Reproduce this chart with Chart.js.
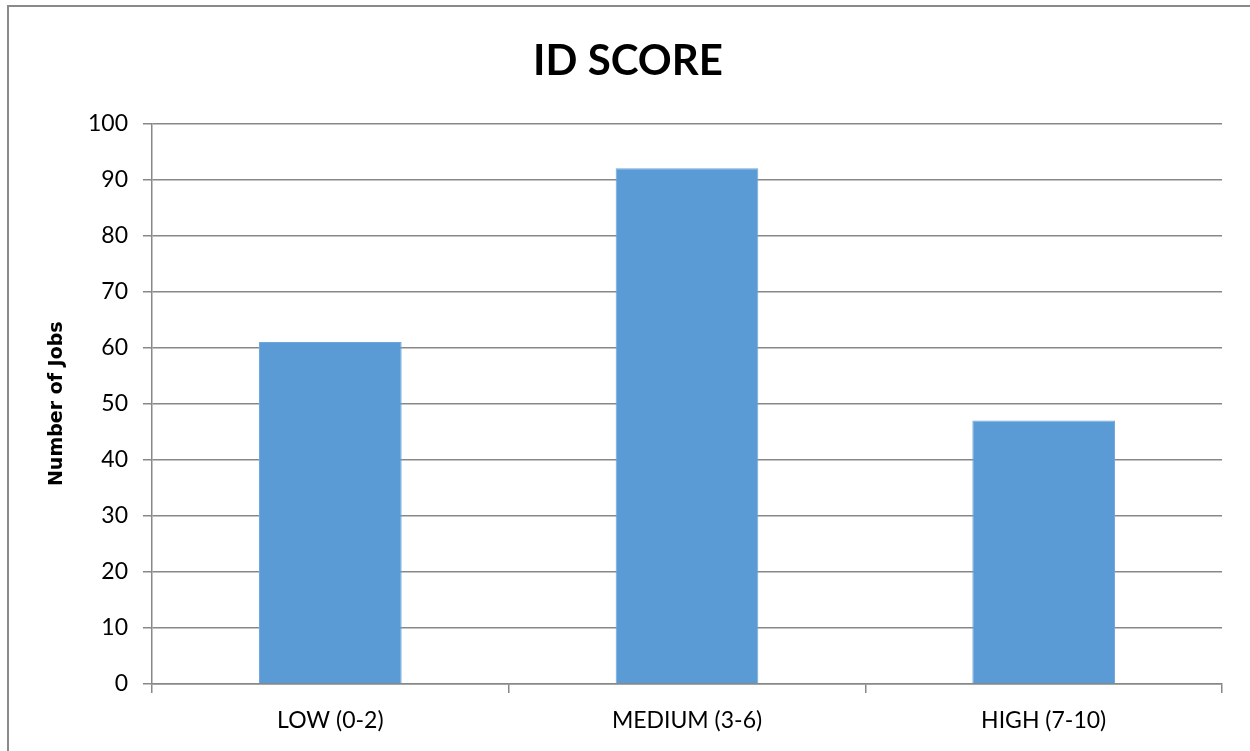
<!DOCTYPE html>
<html>
<head>
<meta charset="utf-8">
<script src="https://cdn.jsdelivr.net/npm/chart.js@4.4.1/dist/chart.umd.min.js"></script>
<style>
  html, body { margin: 0; padding: 0; background: #ffffff; }
  #wrap { position: absolute; left: 0; top: 0; width: 1250px; height: 751px; }
  canvas { display: block; }
</style>
</head>
<body>
<div id="wrap"><canvas id="c" width="1250" height="751"></canvas></div>
<script>
const chartTitle = "ID SCORE";
const yAxisTitle = "Number of Jobs";
const categories = ["LOW (0-2)", "MEDIUM (3-6)", "HIGH (7-10)"];
const jobCounts = [61, 92, 47];
const yMin = 0;
const yMax = 100;
const yStep = 10;

const FONT = "Lato, 'Open Sans', 'DejaVu Sans', sans-serif";
const gridColor = "#888888";

const outerBorder = {
  id: "outerBorder",
  beforeDraw(chart) {
    const ctx = chart.ctx;
    ctx.save();
    ctx.fillStyle = "#ffffff";
    ctx.fillRect(0, 0, chart.width, chart.height);
    ctx.strokeStyle = "#8a8a8a";
    ctx.lineWidth = 2;
    ctx.beginPath();
    ctx.moveTo(8, chart.height + 5);
    ctx.lineTo(8, 6);
    ctx.lineTo(chart.width + 5, 6);
    ctx.stroke();
    ctx.restore();
  }
};

new Chart(document.getElementById("c"), {
  type: "bar",
  data: {
    labels: categories,
    datasets: [{
      label: yAxisTitle,
      data: jobCounts,
      backgroundColor: "#5b9bd5",
      borderColor: "#6fa8dc",
      borderWidth: 1,
      categoryPercentage: 0.4,
      barPercentage: 1.0
    }]
  },
  options: {
    responsive: false,
    animation: false,
    devicePixelRatio: 1,
    layout: { padding: { left: 6, right: 0, top: 0, bottom: 0 } },
    plugins: {
      legend: { display: false },
      tooltip: { enabled: false },
      title: {
        display: true,
        text: chartTitle,
        color: "#000000",
        font: { family: FONT, size: 42, weight: "bold" },
        padding: { top: 36, bottom: 37 }
      }
    },
    scales: {
      x: {
        grid: {
          display: true,
          drawOnChartArea: false,
          drawTicks: true,
          tickLength: 9,
          color: gridColor,
          lineWidth: 1.5,
          offset: true
        },
        border: { display: true, color: gridColor, width: 1.5 },
        ticks: {
          color: "#000000",
          font: { family: FONT, size: 23 },
          padding: 14,
          maxRotation: 0
        },
        afterFit(scale) { scale.height = 67; }
      },
      y: {
        min: yMin,
        max: yMax,
        ticks: {
          stepSize: yStep,
          color: "#000000",
          font: { family: FONT, size: 23 },
          padding: 15
        },
        grid: {
          color: gridColor,
          lineWidth: 1.5,
          tickLength: 9,
          drawTicks: true
        },
        border: { display: true, color: gridColor, width: 1.5 },
        title: {
          display: true,
          text: yAxisTitle,
          color: "#000000",
          font: { family: "'DejaVu Sans', sans-serif", size: 19, weight: "bold" },
          padding: { top: 40, bottom: 0 }
        },
        afterFit(scale) { scale.width = 146; }
      },
      rightSpace: {
        type: "linear",
        position: "right",
        display: true,
        grid: { display: false },
        border: { display: false },
        ticks: { display: false },
        afterFit(scale) { scale.width = 28; }
      }
    }
  },
  plugins: [outerBorder]
});
</script>
</body>
</html>
